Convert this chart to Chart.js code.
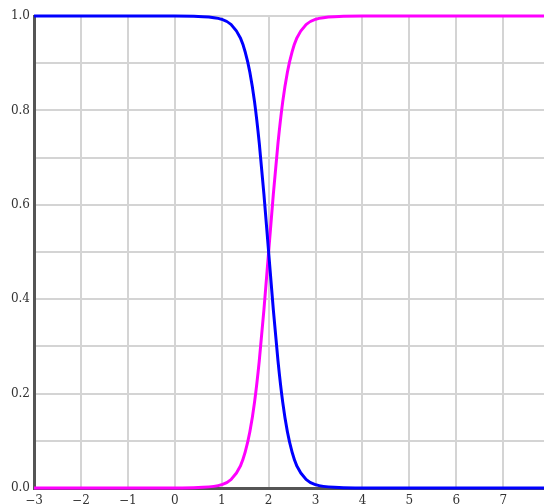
<!DOCTYPE html>
<html>
<head>
<meta charset="utf-8">
<script src="https://cdn.jsdelivr.net/npm/chart.js@4"></script>
<style>
  html, body { margin: 0; padding: 0; background: #fff; overflow: hidden; }
  #wrap { position: absolute; left: 0; top: 0; width: 560px; height: 510px; }
</style>
</head>
<body>
<div id="wrap"><canvas id="sigChart" width="560" height="510"></canvas></div>
<script>
// values
var xs      = [-3, -2, -1, 0, 0.5, 1, 1.2, 1.4, 1.5, 1.6, 1.7, 1.8, 1.9, 2, 2.1, 2.2, 2.3, 2.4, 2.5, 2.6, 2.8, 3, 3.5, 4, 5, 6, 7, 8];
var falling = [1, 1, 1, 1, 0.999, 0.993, 0.982, 0.953, 0.924, 0.881, 0.818, 0.731, 0.622, 0.5, 0.378, 0.269, 0.182, 0.119, 0.076, 0.047, 0.018, 0.007, 0.001, 0, 0, 0, 0, 0];
var rising  = [0, 0, 0, 0, 0.001, 0.007, 0.018, 0.047, 0.076, 0.119, 0.182, 0.269, 0.378, 0.5, 0.622, 0.731, 0.818, 0.881, 0.924, 0.953, 0.982, 0.993, 0.999, 1, 1, 1, 1, 1];
var xMin = -3, xMax = 8;
var yTickLabels = ['0.0', '0.2', '0.4', '0.6', '0.8', '1.0'];

function pts(ys) {
    return xs.map(function (x, i) { return { x: x, y: ys[i] }; });
}

var tickFont = { family: '"DejaVu Serif", serif', size: 12 };

document.addEventListener('DOMContentLoaded', function () {
    var ctx = document.getElementById('sigChart').getContext('2d');
    var sigChart = new Chart(ctx, {
        type: 'scatter',
        data: {
            datasets: [
                {
                    data: pts(falling),
                    showLine: true,
                    borderColor: '#0000ff',
                    borderWidth: 3,
                    pointRadius: 0,
                    cubicInterpolationMode: 'monotone',
                    clip: 6
                },
                {
                    data: pts(rising),
                    showLine: true,
                    borderColor: '#ff00ff',
                    borderWidth: 3,
                    pointRadius: 0,
                    cubicInterpolationMode: 'monotone',
                    clip: 6
                }
            ]
        },
        options: {
            responsive: false,
            animation: false,
            layout: { padding: { top: 16, right: 9, left: 0, bottom: 0 } },
            plugins: { legend: { display: false }, tooltip: { enabled: false } },
            scales: {
                x: {
                    type: 'linear',
                    min: xMin,
                    max: xMax,
                    afterFit: function (s) { s.height = 22; },
                    border: { color: '#555', width: 3 },
                    grid: { color: '#d4d4d4', lineWidth: 2, drawTicks: false },
                    ticks: {
                        stepSize: 1,
                        padding: 6,
                        color: '#333',
                        font: tickFont,
                        maxRotation: 0,
                        callback: function (v) { return String(v).replace('-', '\u2212'); }
                    }
                },
                y: {
                    min: 0,
                    max: 1,
                    afterFit: function (s) { s.width = 34; },
                    border: { color: '#555', width: 3 },
                    grid: { color: '#d4d4d4', lineWidth: 2, drawTicks: false },
                    ticks: {
                        stepSize: 0.1,
                        padding: 4,
                        color: '#333',
                        font: tickFont,
                        callback: function (v) {
                            var k = Math.round(v * 10);
                            return k % 2 === 0 ? yTickLabels[k / 2] : '';
                        }
                    }
                }
            }
        }
    });
});
</script>
</body>
</html>
